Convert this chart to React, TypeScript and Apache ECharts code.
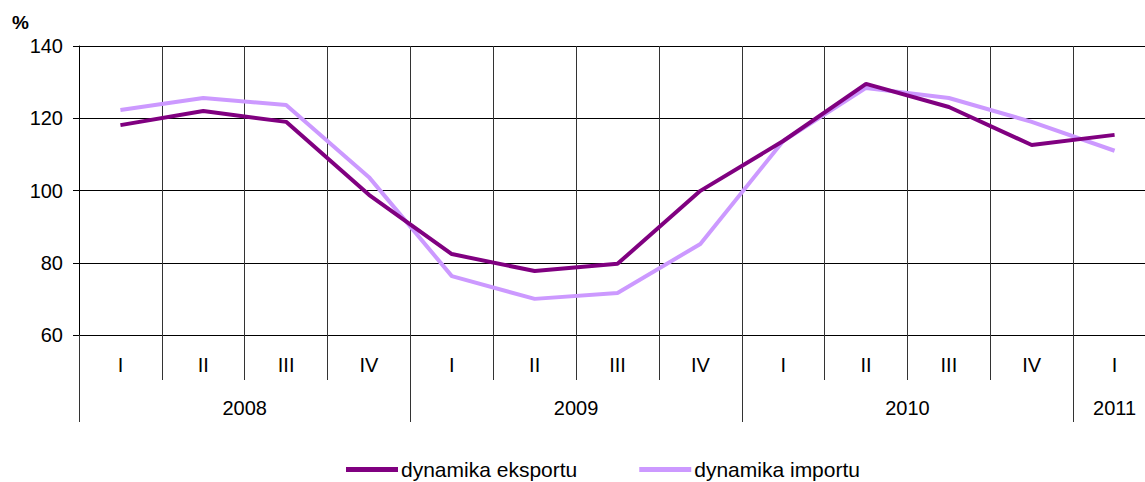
import React, { useEffect, useRef } from "react";
import * as echarts from "echarts";

const quarters = ["I", "II", "III", "IV", "I", "II", "III", "IV", "I", "II", "III", "IV", "I"];
const exportDyn = [118.1, 122.0, 119.0, 98.8, 82.4, 77.7, 79.7, 99.9, 113.7, 129.5, 123.1, 112.6, 115.4];
const importDyn = [122.3, 125.6, 123.7, 103.7, 76.3, 70.0, 71.6, 85.2, 113.7, 128.4, 125.6, 119.0, 111.0];
// year labels placed on a half-quarter grid (27 positions, 0..26)
const yearSlots: string[] = Array.from({ length: 27 }, () => "");
yearSlots[4] = "2008";
yearSlots[12] = "2009";
yearSlots[20] = "2010";
yearSlots[25] = "2011";
const yearBoundaries = [0, 8, 16, 24, 26];
const yTicks = { min: 60, max: 140, interval: 20 };

const FONT = "'Liberation Sans', Arial, sans-serif";

export default function App() {
  const ref = useRef<HTMLDivElement>(null);
  useEffect(() => {
    if (!ref.current) return;
    const chart = echarts.init(ref.current, undefined, { renderer: "svg" });
    chart.setOption({
      animation: false,
      textStyle: { fontFamily: FONT },
      grid: { left: 79, top: 46, width: 1077, bottom: 147, containLabel: false },
      legend: {
        top: 454,
        left: 341,
        itemGap: 62,
        itemWidth: 52,
        itemHeight: 5,
        icon: "rect",
        textStyle: { fontFamily: FONT, fontSize: 21, color: "#000", padding: [0, 0, 0, -2] },
        data: ["dynamika eksportu", "dynamika importu"],
      },
      xAxis: [
        {
          type: "category",
          data: quarters,
          boundaryGap: true,
          position: "bottom",
          axisLine: { show: true, lineStyle: { color: "#000", width: 1 } },
          axisTick: { show: true, length: 45, interval: 0, lineStyle: { color: "#333", width: 1 } },
          axisLabel: { interval: 0, margin: 20, fontSize: 20, color: "#000", fontFamily: FONT },
          splitLine: { show: true, interval: 0, lineStyle: { color: "#333", width: 1 } },
        },
        {
          type: "category",
          data: yearSlots,
          boundaryGap: false,
          position: "bottom",
          offset: 45,
          axisLine: { show: false },
          axisTick: {
            show: true,
            length: 42,
            interval: (i: number) => yearBoundaries.includes(i),
            lineStyle: { color: "#333", width: 1 },
          },
          axisLabel: {
            interval: (i: number, v: string) => v !== "",
            margin: 18,
            fontSize: 20,
            color: "#000",
            fontFamily: FONT,
          },
          splitLine: { show: false },
        },
      ],
      yAxis: {
        type: "value",
        min: yTicks.min,
        max: yTicks.max,
        interval: yTicks.interval,
        name: "%",
        nameLocation: "end",
        nameGap: 14,
        nameTextStyle: {
          fontWeight: "bold",
          fontSize: 19,
          color: "#000",
          fontFamily: FONT,
          align: "right",
          padding: [0, 50, 0, 0],
        },
        axisLine: { show: true, lineStyle: { color: "#000", width: 1 } },
        axisTick: { show: true, length: 6, lineStyle: { color: "#000" } },
        axisLabel: { fontSize: 20, color: "#000", margin: 16, fontFamily: FONT },
        splitLine: { show: true, lineStyle: { color: "#000", width: 1 } },
      },
      series: [
        {
          name: "dynamika eksportu",
          type: "line",
          data: exportDyn,
          xAxisIndex: 0,
          symbol: "none",
          lineStyle: { color: "#800080", width: 4 },
          itemStyle: { color: "#800080" },
          z: 3,
        },
        {
          name: "dynamika importu",
          type: "line",
          data: importDyn,
          xAxisIndex: 0,
          symbol: "none",
          lineStyle: { color: "#CC99FF", width: 4 },
          itemStyle: { color: "#CC99FF" },
          z: 2,
        },
      ],
    });
    return () => chart.dispose();
  }, []);
  return (
    <div
      style={{
        position: "absolute",
        left: 0,
        top: 0,
        width: 1145,
        height: 482,
        overflow: "hidden",
        background: "#fff",
      }}
    >
      <div ref={ref} style={{ width: 1160, height: 482 }} />
    </div>
  );
}
